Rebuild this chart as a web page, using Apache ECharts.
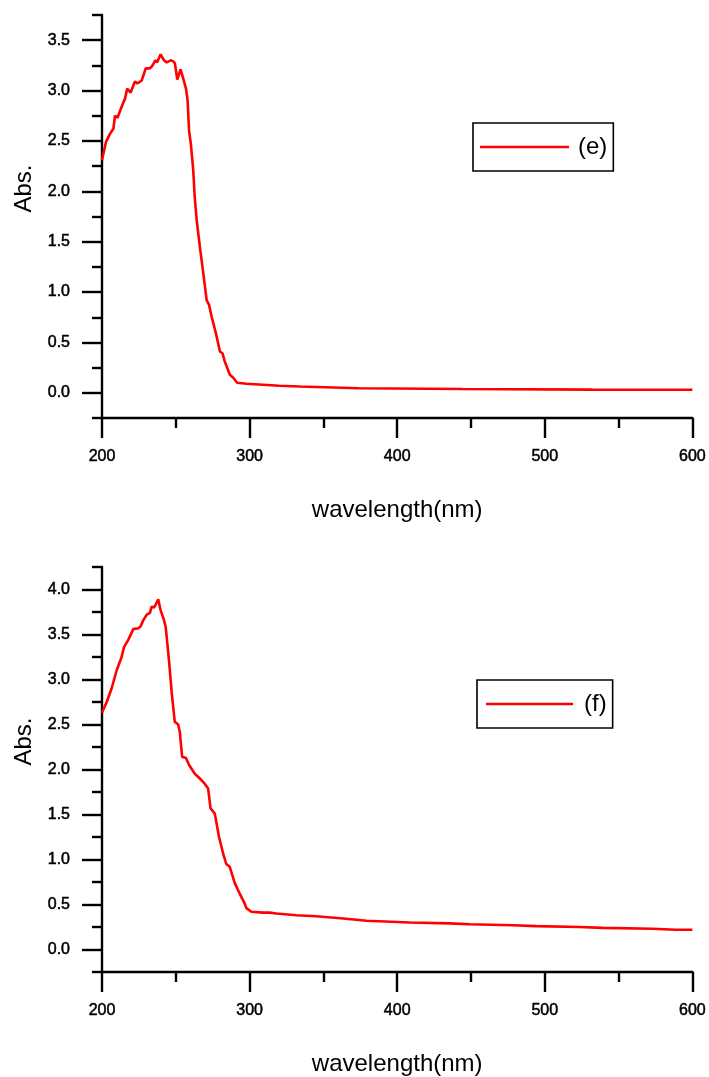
<!DOCTYPE html>
<html>
<head>
<meta charset="utf-8">
<script src="https://cdn.jsdelivr.net/npm/echarts@6/dist/echarts.min.js"></script>
<style>
  html, body { margin: 0; padding: 0; background: #ffffff; }
  #chart { width: 709px; height: 1077px; }
</style>
</head>
<body>
<div id="chart"></div>
<script>
// UV-Vis absorption spectra, samples (e) and (f)
const wavelengthE = [200, 202.7, 205.4, 207.7, 208.8, 210.5, 213.3, 215.6, 217.1, 219.4, 222.3, 223.9, 226.9, 229.6, 232.5, 234.3, 236.1, 237.4, 239.7, 242, 243.8, 246.5, 248.3, 249.4, 251, 253.2, 255, 256.9, 258, 259, 260.2, 261.8, 262.8, 264.1, 266.3, 268.6, 270.9, 272.6, 274.2, 277.2, 279.9, 281.7, 283.2, 286.6, 288.9, 291.6, 297.9, 309.2, 320, 334, 357, 374, 444, 532, 600];
const absE = [2.31, 2.49, 2.57, 2.62, 2.75, 2.73, 2.84, 2.92, 3.02, 2.98, 3.09, 3.07, 3.10, 3.22, 3.22, 3.25, 3.30, 3.28, 3.36, 3.30, 3.28, 3.30, 3.29, 3.27, 3.11, 3.21, 3.12, 3.02, 2.90, 2.60, 2.47, 2.21, 1.95, 1.72, 1.45, 1.19, 0.92, 0.87, 0.76, 0.59, 0.41, 0.39, 0.31, 0.18, 0.15, 0.10, 0.09, 0.08, 0.07, 0.062, 0.053, 0.045, 0.038, 0.032, 0.03];

const wavelengthF = [200, 203.2, 206.5, 209.9, 213.3, 214.9, 217.8, 221.2, 224.6, 226.1, 228, 230.3, 232.5, 233.6, 235.2, 236.3, 238.1, 239.7, 242, 243.2, 245.4, 247.3, 249.3, 251.6, 252.7, 254.3, 256.8, 259, 261, 263, 266.3, 269.7, 271.9, 273.5, 276.4, 279.3, 282, 284.2, 286.5, 289.9, 293.3, 296.7, 297.8, 301.2, 309.1, 313.6, 318.2, 331.7, 345, 363.4, 379.2, 408.5, 435.5, 449, 478.4, 494.1, 523.5, 539.3, 573.1, 588.9, 600];
const absF = [2.63, 2.75, 2.90, 3.10, 3.25, 3.36, 3.44, 3.56, 3.57, 3.59, 3.66, 3.72, 3.74, 3.81, 3.80, 3.83, 3.89, 3.77, 3.66, 3.58, 3.21, 2.84, 2.53, 2.50, 2.42, 2.14, 2.13, 2.05, 2.00, 1.95, 1.90, 1.84, 1.79, 1.57, 1.51, 1.25, 1.07, 0.95, 0.92, 0.74, 0.62, 0.51, 0.46, 0.42, 0.41, 0.41, 0.40, 0.38, 0.37, 0.345, 0.32, 0.30, 0.29, 0.28, 0.27, 0.26, 0.25, 0.24, 0.23, 0.22, 0.22];

const seriesNames = ['(e)', '(f)'];

// axis ticks
const xMajorTicks = [200, 300, 400, 500, 600];
const xMinorTicks = [250, 350, 450, 550];
const yMajorTicksE = [0, 0.5, 1.0, 1.5, 2.0, 2.5, 3.0, 3.5];
const yMinorTicksE = [-0.25, 0.25, 0.75, 1.25, 1.75, 2.25, 2.75, 3.25, 3.75];
const yMajorTicksF = [0, 0.5, 1.0, 1.5, 2.0, 2.5, 3.0, 3.5, 4.0];
const yMinorTicksF = [-0.25, 0.25, 0.75, 1.25, 1.75, 2.25, 2.75, 3.25, 3.75, 4.25];

const xTitle = 'wavelength(nm)';
const yTitle = 'Abs.';

const FONT = '"Liberation Sans", Arial, sans-serif';
const BLACK = '#000000';
const RED = '#ff0000';

// tick label style: regular face with a hairline outline for a medium weight
const tickLabelStyle = {
  fontFamily: FONT, fontSize: 16, color: BLACK,
  textBorderColor: BLACK, textBorderWidth: 0.5
};

function pairs(xs, ys) { return xs.map((x, i) => [x, ys[i]]); }

function xAxes(gridIndex) {
  return [
    {
      type: 'value', gridIndex, position: 'bottom', min: 200, max: 600,
      name: xTitle, nameLocation: 'middle', nameGap: 80,
      nameTextStyle: { fontFamily: FONT, fontSize: 24, color: BLACK },
      axisLine: { show: true, onZero: false, lineStyle: { color: BLACK, width: 2.4 } },
      axisTick: { show: true, customValues: xMajorTicks, length: 20, lineStyle: { color: BLACK, width: 2.4 } },
      axisLabel: Object.assign({ show: true, customValues: xMajorTicks, margin: 31 }, tickLabelStyle),
      splitLine: { show: false }
    },
    {
      type: 'value', gridIndex, position: 'bottom', min: 200, max: 600,
      axisLine: { show: false, onZero: false },
      axisTick: { show: true, customValues: xMinorTicks, length: 10, lineStyle: { color: BLACK, width: 2.4 } },
      axisLabel: { show: false },
      splitLine: { show: false }
    }
  ];
}

function yAxes(gridIndex, max, majors, minors) {
  return [
    {
      type: 'value', gridIndex, position: 'left', min: -0.25, max,
      name: yTitle, nameLocation: 'middle', nameGap: 66, nameRotate: 90,
      nameTextStyle: { fontFamily: FONT, fontSize: 24, color: BLACK, padding: [0, 0, 0, 56] },
      axisLine: { show: true, onZero: false, lineStyle: { color: BLACK, width: 2.4 } },
      axisTick: { show: true, customValues: majors, length: 20, lineStyle: { color: BLACK, width: 2.4 } },
      axisLabel: Object.assign({ show: true, customValues: majors, margin: 32, formatter: v => v.toFixed(1) }, tickLabelStyle),
      splitLine: { show: false }
    },
    {
      type: 'value', gridIndex, position: 'left', min: -0.25, max,
      axisLine: { show: false, onZero: false },
      axisTick: { show: true, customValues: minors, length: 10, lineStyle: { color: BLACK, width: 2.4 } },
      axisLabel: { show: false },
      splitLine: { show: false }
    }
  ];
}

function legend(name, left, top, padLeft, itemWidth, textPadLeft) {
  return {
    data: [name], left, top, orient: 'horizontal',
    icon: 'rect', itemWidth, itemHeight: 2.6,
    padding: [5, 6, 5, padLeft],
    borderColor: BLACK, borderWidth: 1.6, borderRadius: 0,
    selectedMode: false,
    textStyle: { fontFamily: FONT, fontSize: 24, color: BLACK, lineHeight: 26, padding: [12, 0, 0, textPadLeft] }
  };
}

const chart = echarts.init(document.getElementById('chart'), null, { renderer: 'canvas' });

chart.setOption({
  animation: false,
  backgroundColor: '#ffffff',
  grid: [
    { left: 102, width: 591, top: 15, height: 403 },
    { left: 102, width: 591, top: 567, height: 405 }
  ],
  legend: [
    legend(seriesNames[0], 473, 123, 7, 89, 4),
    legend(seriesNames[1], 477, 680, 9, 87, 6)
  ],
  xAxis: [...xAxes(0), ...xAxes(1)],
  yAxis: [...yAxes(0, 3.75, yMajorTicksE, yMinorTicksE), ...yAxes(1, 4.25, yMajorTicksF, yMinorTicksF)],
  series: [
    {
      name: seriesNames[0], type: 'line', xAxisIndex: 0, yAxisIndex: 0,
      data: pairs(wavelengthE, absE), showSymbol: false, symbol: 'none',
      lineStyle: { color: RED, width: 2.6 }, itemStyle: { color: RED }
    },
    {
      name: seriesNames[1], type: 'line', xAxisIndex: 2, yAxisIndex: 2,
      data: pairs(wavelengthF, absF), showSymbol: false, symbol: 'none',
      lineStyle: { color: RED, width: 2.6 }, itemStyle: { color: RED }
    }
  ]
});
</script>
</body>
</html>
